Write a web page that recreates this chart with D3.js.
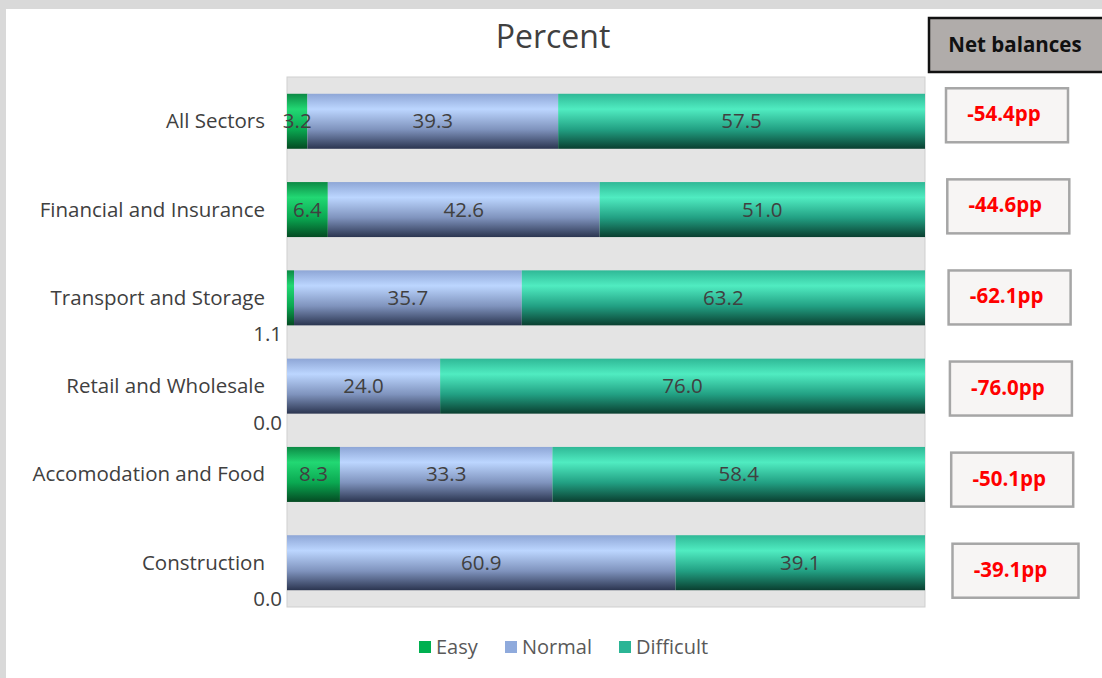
<!DOCTYPE html>
<html>
<head>
<meta charset="utf-8">
<script src="https://cdn.jsdelivr.net/npm/d3@7"></script>
<style>
  html, body { margin: 0; padding: 0; background: #d9d9d9; }
  svg { display: block; }
  text { font-family: "Open Sans", Lato, sans-serif; }
</style>
</head>
<body>
<div id="chart"></div>
<script>
var categories = ['All Sectors', 'Financial and Insurance', 'Transport and Storage',
  'Retail and Wholesale', 'Accomodation and Food', 'Construction'];
var easy = [3.2, 6.4, 1.1, 0.0, 8.3, 0.0];
var normal = [39.3, 42.6, 35.7, 24.0, 33.3, 60.9];
var difficult = [57.5, 51.0, 63.2, 76.0, 58.4, 39.1];
var netBalances = [-54.4, -44.6, -62.1, -76.0, -50.1, -39.1];
var seriesNames = ['Easy', 'Normal', 'Difficult'];

var W = 1102, H = 678;
var svg = d3.select('#chart').append('svg')
  .attr('width', W)
  .attr('height', H);

// white panel
svg.append('rect')
  .attr('x', 6).attr('y', 9)
  .attr('width', W).attr('height', H)
  .attr('fill', '#fff');

var margin = {left: 287, right: 925, top: 77, bottom: 607};

var x = d3.scaleLinear().domain([0, 100]).range([margin.left, margin.right]);
var y = d3.scaleBand().domain(categories).range([margin.top, margin.bottom])
  .paddingInner(0.377).paddingOuter(0.19);

var colors = {
  Easy: ['#0c8a45', '#22d873', '#0aa851', '#044a22'],
  Normal: ['#8ea6d6', '#bcd6ff', '#7f93bd', '#2b3550'],
  Difficult: ['#2fb896', '#50ecc1', '#22a083', '#0a3f30']
};
var legendColors = {Easy: '#00b050', Normal: '#8faadc', Difficult: '#2bb595'};

var defs = svg.append('defs');
seriesNames.forEach(function(s) {
  var g = defs.append('linearGradient')
    .attr('id', 'grad-' + s)
    .attr('x1', 0).attr('y1', 0).attr('x2', 0).attr('y2', 1);
  g.append('stop').attr('offset', '0%').attr('stop-color', colors[s][0]);
  g.append('stop').attr('offset', '28%').attr('stop-color', colors[s][1]);
  g.append('stop').attr('offset', '65%').attr('stop-color', colors[s][2]);
  g.append('stop').attr('offset', '100%').attr('stop-color', colors[s][3]);
});

// plot area
svg.append('rect')
  .attr('x', margin.left).attr('y', margin.top)
  .attr('width', margin.right - margin.left)
  .attr('height', margin.bottom - margin.top)
  .attr('fill', '#e4e4e4')
  .attr('stroke', '#cfcfcf')
  .attr('stroke-width', 1);

// title
svg.append('text')
  .attr('x', 553).attr('y', 48)
  .attr('text-anchor', 'middle')
  .attr('font-size', 32)
  .attr('fill', '#404040')
  .text('Percent');

var rows = categories.map(function(c, i) {
  return {cat: c, Easy: easy[i], Normal: normal[i], Difficult: difficult[i]};
});
var stack = d3.stack().keys(seriesNames)(rows);

var layers = svg.selectAll('g.layer').data(stack).enter().append('g')
  .attr('class', 'layer')
  .attr('fill', function(d) { return 'url(#grad-' + d.key + ')'; });

layers.selectAll('rect').data(function(d) { return d; }).enter().append('rect')
  .attr('x', function(d) { return x(d[0]); })
  .attr('y', function(d) { return y(d.data.cat); })
  .attr('width', function(d) { return x(d[1]) - x(d[0]); })
  .attr('height', y.bandwidth());

// data labels, tiny segments get their label pushed out below-left
stack.forEach(function(layer) {
  layer.forEach(function(d) {
    var v = d[1] - d[0];
    var small = v < 2;
    svg.append('text')
      .attr('x', small ? margin.left - 5 : x((d[0] + d[1]) / 2))
      .attr('y', small ? y(d.data.cat) + y.bandwidth() + 16 : y(d.data.cat) + y.bandwidth() / 2 + 7)
      .attr('text-anchor', small ? 'end' : 'middle')
      .attr('font-size', 20.5)
      .attr('fill', '#404040')
      .text(v.toFixed(1));
  });
});

// category labels
svg.selectAll('text.cat').data(categories).enter().append('text')
  .attr('class', 'cat')
  .attr('x', 265)
  .attr('y', function(d) { return y(d) + y.bandwidth() / 2 + 7; })
  .attr('text-anchor', 'end')
  .attr('font-size', 20.5)
  .attr('fill', '#404040')
  .text(function(d) { return d; });

// net balances header
svg.append('rect')
  .attr('x', 929).attr('y', 18)
  .attr('width', 180).attr('height', 54)
  .attr('fill', '#b0acaa')
  .attr('stroke', '#111')
  .attr('stroke-width', 2.5);
svg.append('text')
  .attr('x', 1015).attr('y', 52)
  .attr('text-anchor', 'middle')
  .attr('font-size', 20.5)
  .attr('font-weight', 'bold')
  .attr('fill', '#111')
  .text('Net balances');

// net balance boxes (drift slightly down/right like the original)
var nb = svg.selectAll('g.nb').data(netBalances).enter().append('g')
  .attr('class', 'nb')
  .attr('transform', function(d, i) {
    var cy = y(categories[i]) + y.bandwidth() / 2 - 6 + i * 2.8;
    return 'translate(' + (946 + i * 1.3) + ',' + (cy - 27) + ')';
  });
nb.append('rect')
  .attr('width', function(d, i) { return 122 + (i === 5 ? 4 : 0); })
  .attr('height', 54)
  .attr('fill', '#f7f5f4')
  .attr('stroke', '#a6a6a6')
  .attr('stroke-width', 2.5);
nb.append('text')
  .attr('x', 58).attr('y', 33)
  .attr('text-anchor', 'middle')
  .attr('font-size', 20.5)
  .attr('font-weight', 'bold')
  .attr('fill', '#ff0000')
  .text(function(d) { return d.toFixed(1) + 'pp'; });

// legend
var legendX = [419, 505, 619];
var legend = svg.selectAll('g.legend').data(seriesNames).enter().append('g')
  .attr('class', 'legend')
  .attr('transform', function(d, i) { return 'translate(' + legendX[i] + ',641)'; });
legend.append('rect')
  .attr('width', 12).attr('height', 12)
  .attr('fill', function(d) { return legendColors[d]; });
legend.append('text')
  .attr('x', 17).attr('y', 13)
  .attr('font-size', 20)
  .attr('fill', '#595959')
  .text(function(d) { return d; });
</script>
</body>
</html>
